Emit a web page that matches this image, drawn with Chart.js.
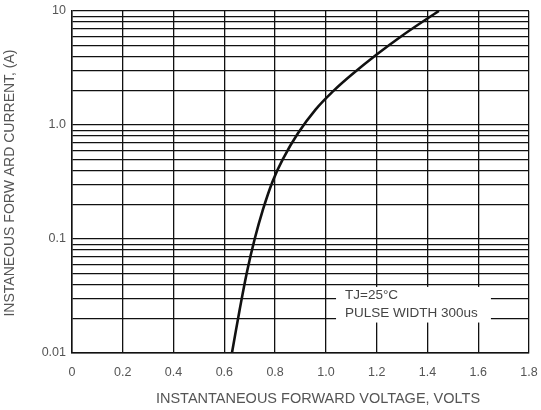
<!DOCTYPE html>
<html>
<head>
<meta charset="utf-8">
<script src="https://cdn.jsdelivr.net/npm/chart.js@4/dist/chart.umd.min.js"></script>
<style>
  html, body { margin: 0; padding: 0; background: #fff; }
  #wrap { width: 541px; height: 410px; }
</style>
</head>
<body>
<div id="wrap"><canvas id="vf-chart"></canvas></div>
<script>
// forward voltage (V) vs instantaneous forward current (A)
var volts   = [0.63, 0.66, 0.69, 0.72, 0.75, 0.79, 0.83, 0.89, 0.96, 1.03, 1.1, 1.2, 1.3, 1.4, 1.445];
var current = [0.01, 0.0237, 0.0525, 0.101, 0.175, 0.32, 0.50, 0.845, 1.37, 1.99, 2.74, 4.15, 6.07, 8.6, 10];

var xTicks = [0, 0.2, 0.4, 0.6, 0.8, 1.0, 1.2, 1.4, 1.6, 1.8];
var yDecades = [0.01, 0.1, 1, 10];
var yDecadeLabels = ["0.01", "0.1", "1.0", "10"];
var xTitle = "INSTANTANEOUS FORWARD VOLTAGE, VOLTS";
var yTitle = "INSTANEOUS FORW ARD CURRENT, (A)";
var noteLines = ["TJ=25\u00B0C", "PULSE WIDTH 300us"];

var fontFamily = "'Liberation Sans', Arial, sans-serif";
var labelColor = "#555";
var gridColor = "#111";

function buildYTicks() {
    var ticks = [];
    for (var d = 0; d < yDecades.length - 1; d++) {
        for (var m = 1; m < 10; m++) {
            ticks.push({ value: +(yDecades[d] * m).toPrecision(3) });
        }
    }
    ticks.push({ value: yDecades[yDecades.length - 1] });
    return ticks;
}

// axis titles and the white box with the test conditions
var textPlugin = {
    id: "texts",
    afterDatasetsDraw: function (chart) {
        var ctx = chart.ctx;
        var x = chart.scales.x, y = chart.scales.y;
        var left = x.getPixelForValue(1.04), right = x.getPixelForValue(1.65);
        var top = y.getPixelForValue(0.038), bottom = y.getPixelForValue(0.0185);

        ctx.save();
        ctx.fillStyle = "#fff";
        ctx.fillRect(left, top, right - left, bottom - top);
        ctx.fillStyle = "#444";
        ctx.font = "13.5px " + fontFamily;
        ctx.textBaseline = "middle";
        ctx.fillText(noteLines[0], left + 9, top + 8);
        ctx.fillText(noteLines[1], left + 9, top + 26);

        ctx.fillStyle = labelColor;
        ctx.font = "14.5px " + fontFamily;
        ctx.textAlign = "center";
        ctx.fillText(xTitle, 318, 399);

        ctx.translate(10, 183);
        ctx.rotate(-Math.PI / 2);
        ctx.font = "14px " + fontFamily;
        ctx.fillText(yTitle, 0, 0);
        ctx.restore();
    }
};

var points = [];
for (var i = 0; i < volts.length; i++) {
    points.push({ x: volts[i], y: current[i] });
}

new Chart(document.getElementById("vf-chart"), {
    type: "scatter",
    data: {
        datasets: [{
            data: points,
            showLine: true,
            borderColor: "#111",
            borderWidth: 2.6,
            pointRadius: 0,
            tension: 0.4
        }]
    },
    options: {
        responsive: true,
        maintainAspectRatio: false,
        animation: false,
        layout: { padding: { left: 0, top: 11, right: 12, bottom: 0 } },
        plugins: {
            legend: { display: false },
            tooltip: { enabled: false }
        },
        scales: {
            x: {
                type: "linear",
                min: 0,
                max: 1.8,
                afterBuildTicks: function (scale) {
                    scale.ticks = xTicks.map(function (v) { return { value: v }; });
                },
                afterFit: function (scale) {
                    scale.height = 57;
                    scale.paddingLeft = 0;
                    scale.paddingRight = 0;
                },
                grid: { color: gridColor, lineWidth: 1.3, drawTicks: false },
                border: { color: gridColor, width: 1.5 },
                ticks: {
                    color: labelColor,
                    padding: 12,
                    font: { family: fontFamily, size: 12.5 },
                    callback: function (v) { return v === 0 ? "0" : v.toFixed(1); }
                }
            },
            y: {
                type: "logarithmic",
                min: 0.01,
                max: 10,
                afterBuildTicks: function (scale) { scale.ticks = buildYTicks(); },
                afterFit: function (scale) {
                    scale.width = 72;
                    scale.paddingTop = 0;
                    scale.paddingBottom = 0;
                },
                grid: { color: gridColor, lineWidth: 1.3, drawTicks: false },
                border: { color: gridColor, width: 1.5 },
                ticks: {
                    color: labelColor,
                    padding: 6,
                    autoSkip: false,
                    font: { family: fontFamily, size: 12.5 },
                    callback: function (v) {
                        var k = yDecades.indexOf(v);
                        return k >= 0 ? yDecadeLabels[k] : "";
                    }
                }
            }
        }
    },
    plugins: [textPlugin]
});
</script>
</body>
</html>
